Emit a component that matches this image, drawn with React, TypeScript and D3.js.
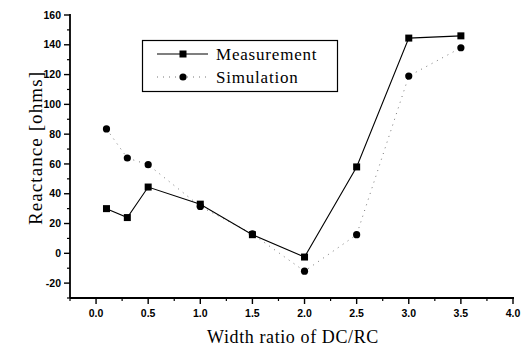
import React from "react";
import * as d3 from "d3";

const xValues = [0.1, 0.3, 0.5, 1.0, 1.5, 2.0, 2.5, 3.0, 3.5];
const measurement = [30, 24, 44.5, 33, 12.5, -2.5, 58, 144.5, 146];
const simulation = [83.5, 64, 59.5, 31.5, 13, -12, 12.5, 119, 138];
const xTicks = [0, 0.5, 1.0, 1.5, 2.0, 2.5, 3.0, 3.5, 4.0];
const yTicks = [-20, 0, 20, 40, 60, 80, 100, 120, 140, 160];
const seriesNames = ["Measurement", "Simulation"];

const W = 527;
const H = 347;

export default function App() {
  const x = d3.scaleLinear().domain([-0.25, 4.0]).range([70, 513]);
  const y = d3.scaleLinear().domain([-30, 160]).range([298, 15]);
  const line = d3
    .line<[number, number]>()
    .x((d) => x(d[0]))
    .y((d) => y(d[1]));
  const mPts: [number, number][] = xValues.map((v, i) => [v, measurement[i]]);
  const sPts: [number, number][] = xValues.map((v, i) => [v, simulation[i]]);
  const minorY = d3.range(-30, 161, 10).filter((v) => v % 20 !== 0);
  const minorX = d3.range(-0.25, 4.01, 0.25).filter((v) => Math.abs((v * 2) % 1) > 0.01);
  const tickFont = "Liberation Sans, Arial, sans-serif";
  const serif = "Liberation Serif, Times New Roman, serif";

  return (
    <svg
      width={W}
      height={H}
      style={{ position: "absolute", left: 0, top: 0, background: "#fff" }}
    >
      {/* axes */}
      <line x1={x(-0.25)} x2={x(-0.25)} y1={y(160) - 1} y2={y(-30)} stroke="#000" strokeWidth={1.8} />
      <line x1={x(-0.25)} x2={x(4.0) + 1} y1={y(-30)} y2={y(-30)} stroke="#000" strokeWidth={1.8} />
      {yTicks.map((t) => (
        <g key={"yt" + t}>
          <line x1={x(-0.25) - 6} x2={x(-0.25)} y1={y(t)} y2={y(t)} stroke="#000" strokeWidth={1.4} />
          <text
            x={x(-0.25) - 9}
            y={y(t)}
            dy="0.35em"
            textAnchor="end"
            fontFamily={tickFont}
            fontWeight="bold"
            fontSize={10.5}
          >
            {t}
          </text>
        </g>
      ))}
      {minorY.map((t) => (
        <line key={"ym" + t} x1={x(-0.25) - 3} x2={x(-0.25)} y1={y(t)} y2={y(t)} stroke="#000" strokeWidth={1.2} />
      ))}
      {xTicks.map((t) => (
        <g key={"xt" + t}>
          <line x1={x(t)} x2={x(t)} y1={y(-30)} y2={y(-30) + 6} stroke="#000" strokeWidth={1.4} />
          <text
            x={x(t)}
            y={y(-30) + 19}
            textAnchor="middle"
            fontFamily={tickFont}
            fontWeight="bold"
            fontSize={10.5}
          >
            {t.toFixed(1)}
          </text>
        </g>
      ))}
      {minorX.map((t) => (
        <line key={"xm" + t} x1={x(t)} x2={x(t)} y1={y(-30)} y2={y(-30) + 3} stroke="#000" strokeWidth={1.2} />
      ))}
      {/* axis titles */}
      <text
        x={293}
        y={343}
        textAnchor="middle"
        fontFamily={serif}
        fontSize={18}
        letterSpacing={0.6}
      >
        Width ratio of DC/RC
      </text>
      <text
        transform={`translate(42,${148}) rotate(-90)`}
        textAnchor="middle"
        fontFamily={serif}
        fontSize={19}
        letterSpacing={1.1}
      >
        Reactance [ohms]
      </text>

      {/* simulation series */}
      <path d={line(sPts) || ""} fill="none" stroke="#777" strokeWidth={1} strokeDasharray="1 5" />
      {sPts.map((p, i) => (
        <circle key={"s" + i} cx={x(p[0])} cy={y(p[1])} r={3.6} fill="#000" />
      ))}
      {/* measurement series */}
      <path d={line(mPts) || ""} fill="none" stroke="#000" strokeWidth={1.1} />
      {mPts.map((p, i) => (
        <rect key={"m" + i} x={x(p[0]) - 3.5} y={y(p[1]) - 3.5} width={7} height={7} fill="#000" />
      ))}

      {/* legend */}
      <rect x={142.5} y={40.5} width={195} height={51} fill="#fff" stroke="#000" strokeWidth={1.2} />
      <line x1={157} x2={208} y1={54} y2={54} stroke="#000" strokeWidth={1.1} />
      <rect x={183 - 3.5} y={54 - 3.5} width={7} height={7} fill="#000" />
      <line x1={157} x2={208} y1={77} y2={77} stroke="#777" strokeWidth={1} strokeDasharray="1 5" />
      <circle cx={183} cy={77} r={3.6} fill="#000" />
      <text x={216} y={60} fontFamily={serif} fontSize={17} letterSpacing={0.8}>
        {seriesNames[0]}
      </text>
      <text x={216} y={83} fontFamily={serif} fontSize={17} letterSpacing={0.8}>
        {seriesNames[1]}
      </text>
    </svg>
  );
}
